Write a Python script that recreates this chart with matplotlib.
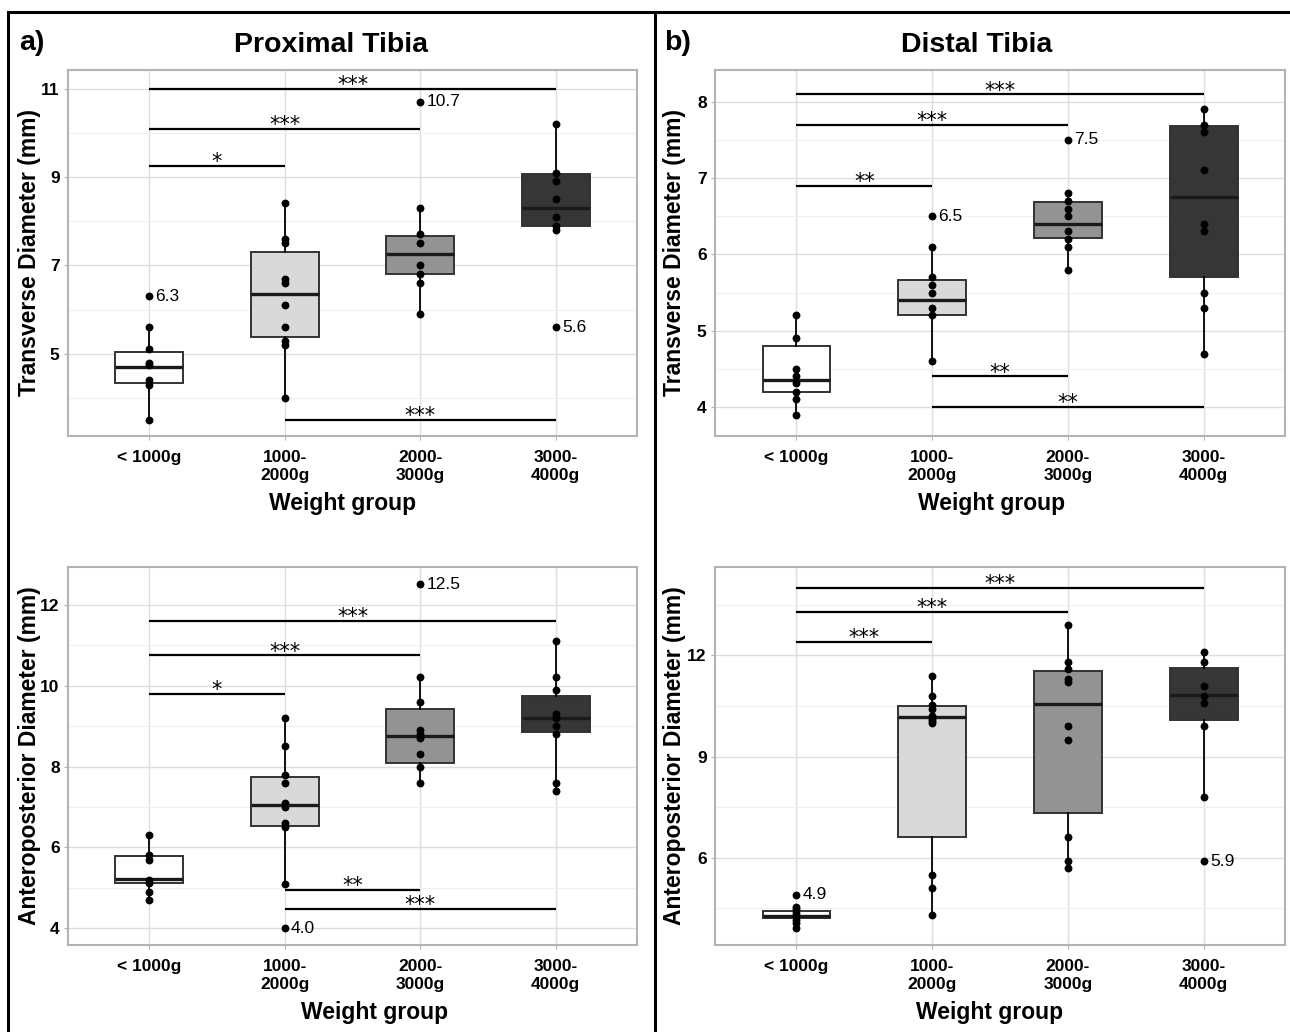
import matplotlib.pyplot as plt
import numpy as np

plt.rcParams['font.family'] = ['Liberation Sans', 'DejaVu Sans']

W, H = 1290, 1032

groups = ['< 1000g', '1000-\n2000g', '2000-\n3000g', '3000-\n4000g']
fills = ['#ffffff', '#d9d9d9', '#939393', '#363636']

# a) proximal tibia, transverse diameter
pt_points = [
    [6.3, 5.6, 5.1, 4.8, 4.75, 4.4, 4.3, 3.5],
    [8.4, 7.6, 7.5, 6.7, 6.6, 6.1, 5.6, 5.3, 5.2, 4.0],
    [10.7, 8.3, 7.7, 7.5, 7.0, 6.8, 6.6, 5.9],
    [10.2, 9.1, 8.9, 8.5, 8.1, 7.9, 7.8, 5.6],
]
pt_q1 = [4.33, 5.38, 6.80, 7.90]
pt_med = [4.71, 6.35, 7.26, 8.30]
pt_q3 = [5.03, 7.30, 7.66, 9.06]
pt_lo = [3.5, 4.0, 5.9, 7.8]
pt_hi = [5.6, 8.4, 8.3, 10.2]
pt_labels = [(0, 6.3), (2, 10.7), (3, 5.6)]
pt_sig = [(0, 3, 11.0, '***'), (0, 2, 10.09, '***'), (0, 1, 9.25, '*'), (1, 3, 3.51, '***')]

# b) distal tibia, transverse diameter
dt_points = [
    [5.2, 4.9, 4.5, 4.4, 4.32, 4.2, 4.1, 3.9],
    [6.5, 6.1, 5.7, 5.6, 5.5, 5.3, 5.2, 4.6],
    [7.5, 6.8, 6.7, 6.6, 6.5, 6.3, 6.2, 6.1, 5.8],
    [7.9, 7.7, 7.6, 7.1, 6.4, 6.3, 5.5, 5.3, 4.7],
]
dt_q1 = [4.20, 5.20, 6.22, 5.70]
dt_med = [4.35, 5.40, 6.40, 6.75]
dt_q3 = [4.80, 5.67, 6.68, 7.68]
dt_lo = [3.9, 4.6, 5.8, 4.7]
dt_hi = [5.2, 6.1, 6.8, 7.9]
dt_labels = [(1, 6.5), (2, 7.5)]
dt_sig = [(0, 3, 8.1, '***'), (0, 2, 7.7, '***'), (0, 1, 6.9, '**'), (1, 2, 4.4, '**'), (1, 3, 4.0, '**')]

# c) proximal tibia, anteroposterior diameter
pa_points = [
    [6.3, 5.82, 5.7, 5.19, 5.11, 4.91, 4.7],
    [9.2, 8.5, 7.8, 7.6, 7.09, 7.0, 6.6, 6.5, 5.1, 4.0],
    [12.5, 10.2, 9.6, 8.9, 8.8, 8.7, 8.3, 8.0, 7.6],
    [11.1, 10.2, 9.9, 9.3, 9.2, 9.0, 8.8, 7.6, 7.4],
]
pa_q1 = [5.11, 6.53, 8.08, 8.85]
pa_med = [5.21, 7.05, 8.76, 9.20]
pa_q3 = [5.79, 7.74, 9.43, 9.75]
pa_lo = [4.7, 5.1, 7.6, 7.4]
pa_hi = [6.3, 9.2, 10.2, 11.1]
pa_labels = [(1, 4.0), (2, 12.5)]
pa_sig = [(0, 3, 11.6, '***'), (0, 2, 10.75, '***'), (0, 1, 9.8, '*'), (1, 2, 4.96, '**'), (1, 3, 4.49, '***')]

# d) distal tibia, anteroposterior diameter
da_points = [
    [4.9, 4.55, 4.47, 4.37, 4.27, 4.15, 4.06, 3.91],
    [11.4, 10.8, 10.54, 10.4, 10.2, 10.12, 10.05, 9.98, 5.5, 5.1, 4.3],
    [12.9, 11.8, 11.6, 11.3, 11.2, 9.9, 9.5, 6.6, 5.9, 5.7],
    [12.1, 11.8, 11.1, 10.8, 10.6, 9.9, 7.8, 5.9],
]
da_q1 = [4.20, 6.62, 7.33, 10.08]
da_med = [4.27, 10.16, 10.55, 10.81]
da_q3 = [4.42, 10.49, 11.53, 11.63]
da_lo = [3.9, 4.3, 5.7, 7.8]
da_hi = [4.55, 11.4, 12.9, 12.1]
da_labels = [(0, 4.9), (3, 5.9)]
da_sig = [(0, 3, 14.0, '***'), (0, 2, 13.3, '***'), (0, 1, 12.41, '***')]


fig = plt.figure(figsize=(W / 100, H / 100), dpi=100)


def rect(l, t, r, b):
    return [l / W, 1 - b / H, (r - l) / W, (b - t) / H]


def panel(box, points, q1, med, q3, lo, hi, labels, sig, ylim, yticks, yminor, ylabel, ylab_x, xlab_x):
    l, t, r, b = box
    ax = fig.add_axes(rect(*box))
    stats = [dict(q1=q1[i], med=med[i], q3=q3[i], whislo=lo[i], whishi=hi[i], fliers=[])
             for i in range(4)]
    bp = ax.bxp(stats, positions=[1, 2, 3, 4], widths=0.5, patch_artist=True,
                showcaps=False, showfliers=False,
                boxprops=dict(edgecolor='#333333', linewidth=1.4),
                medianprops=dict(color='#1a1a1a', linewidth=2.4),
                whiskerprops=dict(color='black', linewidth=1.3))
    for patch, c in zip(bp['boxes'], fills):
        patch.set_facecolor(c)
        patch.set_zorder(2)
    for i, p in enumerate(points):
        ax.scatter(np.full(len(p), i + 1), p, s=32, color='black', zorder=4, linewidths=0)
    for i, v in labels:
        ax.annotate(f'{v:.1f}', (i + 1, v), xytext=(4.5, 0), textcoords='offset points',
                    ha='left', va='center', fontsize=12.5)
    for a, c2, y, s in sig:
        ax.plot([a + 1, c2 + 1], [y, y], color='black', lw=1.6, zorder=3, solid_capstyle='butt')
        ax.annotate(s, ((a + c2) / 2 + 1, y), xytext=(0, -1.8), textcoords='offset points',
                    ha='center', va='baseline', fontsize=15, family='DejaVu Sans')
    ax.set_xlim(0.4, 4.6)
    ax.set_ylim(*ylim)
    ax.set_xticks([1, 2, 3, 4])
    ax.set_xticklabels(groups, fontsize=12.5, fontweight='bold', linespacing=1.3)
    ax.set_yticks(yticks)
    ax.set_yticklabels([str(tk) for tk in yticks], fontsize=12.5, fontweight='bold')
    ax.set_yticks(yminor, minor=True)
    ax.grid(which='major', color='#dedede', lw=1.0)
    ax.grid(which='minor', color='#efefef', lw=0.8)
    ax.set_axisbelow(True)
    ax.tick_params(which='major', length=3, color='#b3b3b3', pad=3)
    ax.tick_params(axis='x', pad=7)
    ax.tick_params(which='minor', length=0)
    for sp in ax.spines.values():
        sp.set_color('#b3b3b3')
        sp.set_linewidth(1.5)
    # axis titles placed in figure pixels
    fig.text(xlab_x / W, 1 - (b + 56) / H, 'Weight group', ha='center', va='top',
             fontsize=16.5, fontweight='bold')
    fig.text(ylab_x / W, 1 - (t + b) / 2 / H, ylabel, rotation=90,
             ha='center', va='center', fontsize=16.5, fontweight='bold')
    return ax


panel((68, 70, 637, 436), pt_points, pt_q1, pt_med, pt_q3, pt_lo, pt_hi, pt_labels, pt_sig,
      (3.14, 11.42), [5, 7, 9, 11], [4, 6, 8, 10], 'Transverse Diameter (mm)', 30, 343)
panel((715, 70, 1285, 436), dt_points, dt_q1, dt_med, dt_q3, dt_lo, dt_hi, dt_labels, dt_sig,
      (3.62, 8.415), [4, 5, 6, 7, 8], [4.5, 5.5, 6.5, 7.5], 'Transverse Diameter (mm)', 675, 992)
panel((68, 567, 637, 945), pa_points, pa_q1, pa_med, pa_q3, pa_lo, pa_hi, pa_labels, pa_sig,
      (3.59, 12.93), [4, 6, 8, 10, 12], [5, 7, 9, 11], 'Anteroposterior Diameter (mm)', 30, 375)
panel((715, 567, 1285, 945), da_points, da_q1, da_med, da_q3, da_lo, da_hi, da_labels, da_sig,
      (3.41, 14.62), [6, 9, 12], [4.5, 7.5, 10.5, 13.5], 'Anteroposterior Diameter (mm)', 675, 990)

# titles and panel letters
fig.text(331 / W, 1 - 52 / H, 'Proximal Tibia', ha='center', va='baseline', fontsize=20.5, fontweight='bold')
fig.text(977 / W, 1 - 52 / H, 'Distal Tibia', ha='center', va='baseline', fontsize=20.5, fontweight='bold')
fig.text(19 / W, 1 - 50 / H, 'a)', ha='left', va='baseline', fontsize=20.5, fontweight='bold')
fig.text(664 / W, 1 - 50 / H, 'b)', ha='left', va='baseline', fontsize=20.5, fontweight='bold')

# outer frame lines
fig.add_artist(plt.Line2D([8 / W, 1], [1 - 12 / H, 1 - 12 / H], color='black', lw=2.2))
fig.add_artist(plt.Line2D([8 / W, 8 / W], [0, 1 - 12 / H], color='black', lw=2.2))
fig.add_artist(plt.Line2D([655 / W, 655 / W], [0, 1 - 12 / H], color='black', lw=2.2))

fig.savefig('out.png', dpi=100)
